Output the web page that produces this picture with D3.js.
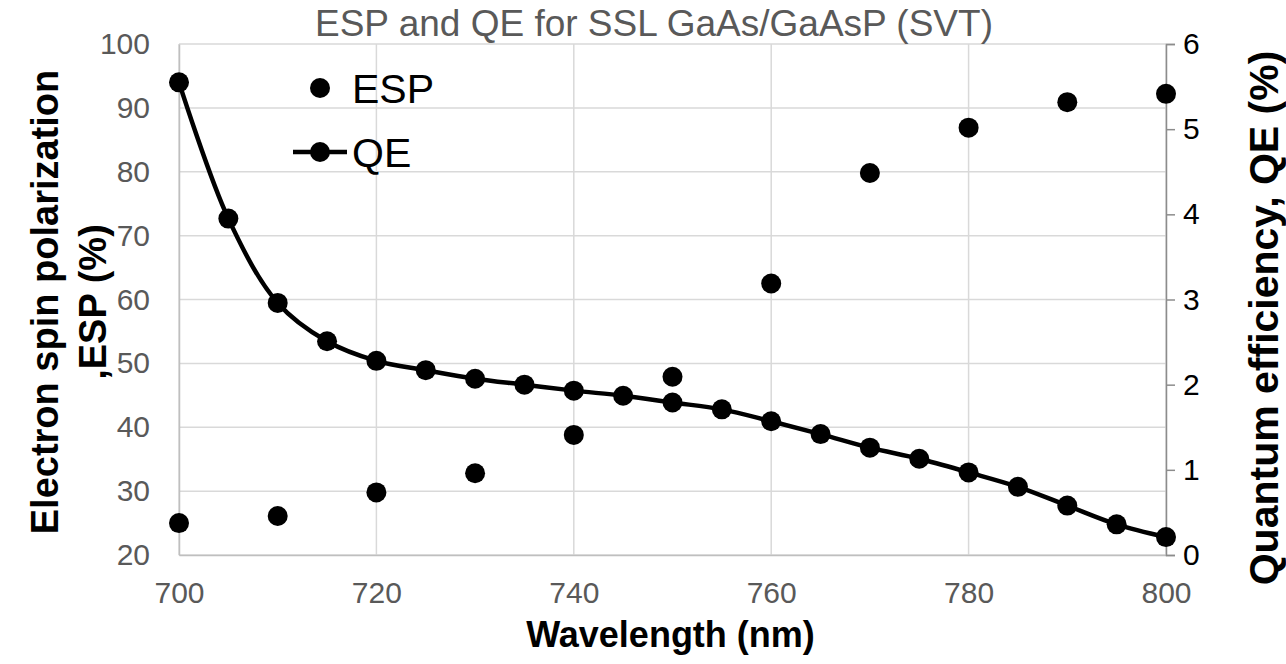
<!DOCTYPE html>
<html>
<head>
<meta charset="utf-8">
<script src="https://cdn.jsdelivr.net/npm/d3@7"></script>
<style>
  html, body { margin: 0; padding: 0; background: #fff; }
  svg { display: block; font-family: "Liberation Sans", Arial, sans-serif; }
</style>
</head>
<body>
<svg id="chart" width="1286" height="664"></svg>
<script>
// Electron spin polarization, measured every 10 nm
const espWavelengths = [700, 710, 720, 730, 740, 750, 760, 770, 780, 790, 800];
const espValues = [25.0, 26.1, 29.8, 32.8, 38.8, 47.9, 62.5, 79.8, 86.9, 90.9, 92.2];

// Quantum efficiency, measured every 5 nm
const qeWavelengths = [700, 705, 710, 715, 720, 725, 730, 735, 740, 745, 750,
                       755, 760, 765, 770, 775, 780, 785, 790, 795, 800];
const qeValues = [5.55, 3.95, 2.96, 2.51, 2.28, 2.17, 2.07, 2.00, 1.93, 1.87, 1.79,
                  1.71, 1.57, 1.42, 1.26, 1.13, 0.97, 0.80, 0.58, 0.36, 0.21];

const xTicks = [700, 720, 740, 760, 780, 800];
const leftTicks = [20, 30, 40, 50, 60, 70, 80, 90, 100];
const rightTicks = [0, 1, 2, 3, 4, 5, 6];

const svg = d3.select("#chart");
const plot = { left: 179, right: 1166, top: 44, bottom: 555 };
const FONT = "Liberation Sans, Arial, sans-serif";

const x = d3.scaleLinear().domain([700, 800]).range([plot.left, plot.right]);
const yL = d3.scaleLinear().domain([20, 100]).range([plot.bottom, plot.top]);
const yR = d3.scaleLinear().domain([0, 6]).range([plot.bottom, plot.top]);

// Gridlines
const grid = svg.append("g");
grid.selectAll("line.h").data(leftTicks).join("line")
  .attr("x1", plot.left).attr("x2", plot.right)
  .attr("y1", d => yL(d)).attr("y2", d => yL(d))
  .attr("stroke", "#d9d9d9").attr("stroke-width", 1.5);
grid.selectAll("line.v").data(xTicks).join("line")
  .attr("x1", d => x(d)).attr("x2", d => x(d))
  .attr("y1", plot.top).attr("y2", plot.bottom)
  .attr("stroke", "#d9d9d9").attr("stroke-width", 1.5);

// Bottom axis
const xAxis = svg.append("g")
  .attr("transform", `translate(0,${plot.bottom})`)
  .call(d3.axisBottom(x).tickValues(xTicks).tickSize(0).tickPadding(27));
xAxis.select(".domain").attr("stroke", "#bfbfbf").attr("stroke-width", 1.5);
xAxis.selectAll("text").attr("font-size", 30).attr("fill", "#595959").attr("font-family", FONT);

// Left axis
const lAxis = svg.append("g")
  .attr("transform", `translate(${plot.left},0)`)
  .call(d3.axisLeft(yL).tickValues(leftTicks).tickSize(0).tickPadding(29));
lAxis.select(".domain").attr("stroke", "#bfbfbf").attr("stroke-width", 1.5);
lAxis.selectAll("text").attr("font-size", 30).attr("fill", "#595959").attr("font-family", FONT);

// Right axis
const rAxis = svg.append("g")
  .attr("transform", `translate(${plot.right},0)`)
  .call(d3.axisRight(yR).tickValues(rightTicks).tickFormat(d3.format("d"))
    .tickSize(9).tickPadding(8));
rAxis.select(".domain").attr("stroke", "#8c8c8c").attr("stroke-width", 1.5);
rAxis.selectAll(".tick line").attr("stroke", "#8c8c8c").attr("stroke-width", 1.5);
rAxis.selectAll("text").attr("font-size", 30).attr("fill", "#000").attr("font-family", FONT);

// Title
svg.append("text")
  .attr("x", 654).attr("y", 36)
  .attr("text-anchor", "middle")
  .attr("font-size", 37).attr("fill", "#595959")
  .text("ESP and QE for SSL GaAs/GaAsP (SVT)");

// Axis titles
svg.append("text")
  .attr("x", (plot.left + plot.right) / 2 - 2).attr("y", 647)
  .attr("text-anchor", "middle")
  .attr("font-size", 36).attr("font-weight", "bold").attr("fill", "#000")
  .text("Wavelength (nm)");

const leftTitle = svg.append("text")
  .attr("transform", "translate(0,302) rotate(-90)")
  .attr("text-anchor", "middle")
  .attr("font-size", 38).attr("font-weight", "bold").attr("fill", "#000");
leftTitle.append("tspan").attr("x", 0).attr("y", 58).text("Electron spin polarization");
leftTitle.append("tspan").attr("x", 0).attr("y", 106).text(",ESP (%)");

svg.append("text")
  .attr("transform", "translate(1278,318) rotate(-90)")
  .attr("text-anchor", "middle")
  .attr("font-size", 41).attr("font-weight", "bold").attr("fill", "#000")
  .text("Quantum efficiency, QE (%)");

// QE smoothed line with markers
const qeData = qeWavelengths.map((w, i) => ({ w, v: qeValues[i] }));
const line = d3.line().x(d => x(d.w)).y(d => yR(d.v)).curve(d3.curveCatmullRom.alpha(0.5));
svg.append("path").datum(qeData)
  .attr("d", line).attr("fill", "none")
  .attr("stroke", "#000").attr("stroke-width", 4.5);
svg.append("g").selectAll("circle").data(qeData).join("circle")
  .attr("cx", d => x(d.w)).attr("cy", d => yR(d.v)).attr("r", 10).attr("fill", "#000");

// ESP markers
const espData = espWavelengths.map((w, i) => ({ w, v: espValues[i] }));
svg.append("g").selectAll("circle").data(espData).join("circle")
  .attr("cx", d => x(d.w)).attr("cy", d => yL(d.v)).attr("r", 10).attr("fill", "#000");

// Legend
const legend = svg.append("g");
legend.append("circle").attr("cx", 320).attr("cy", 88).attr("r", 10).attr("fill", "#000");
legend.append("text").attr("x", 352).attr("y", 103)
  .attr("font-size", 41).attr("fill", "#000").text("ESP");
legend.append("line").attr("x1", 293).attr("x2", 347).attr("y1", 152).attr("y2", 152)
  .attr("stroke", "#000").attr("stroke-width", 4.5);
legend.append("circle").attr("cx", 320).attr("cy", 152).attr("r", 10).attr("fill", "#000");
legend.append("text").attr("x", 352).attr("y", 167)
  .attr("font-size", 41).attr("fill", "#000").text("QE");
</script>
</body>
</html>
